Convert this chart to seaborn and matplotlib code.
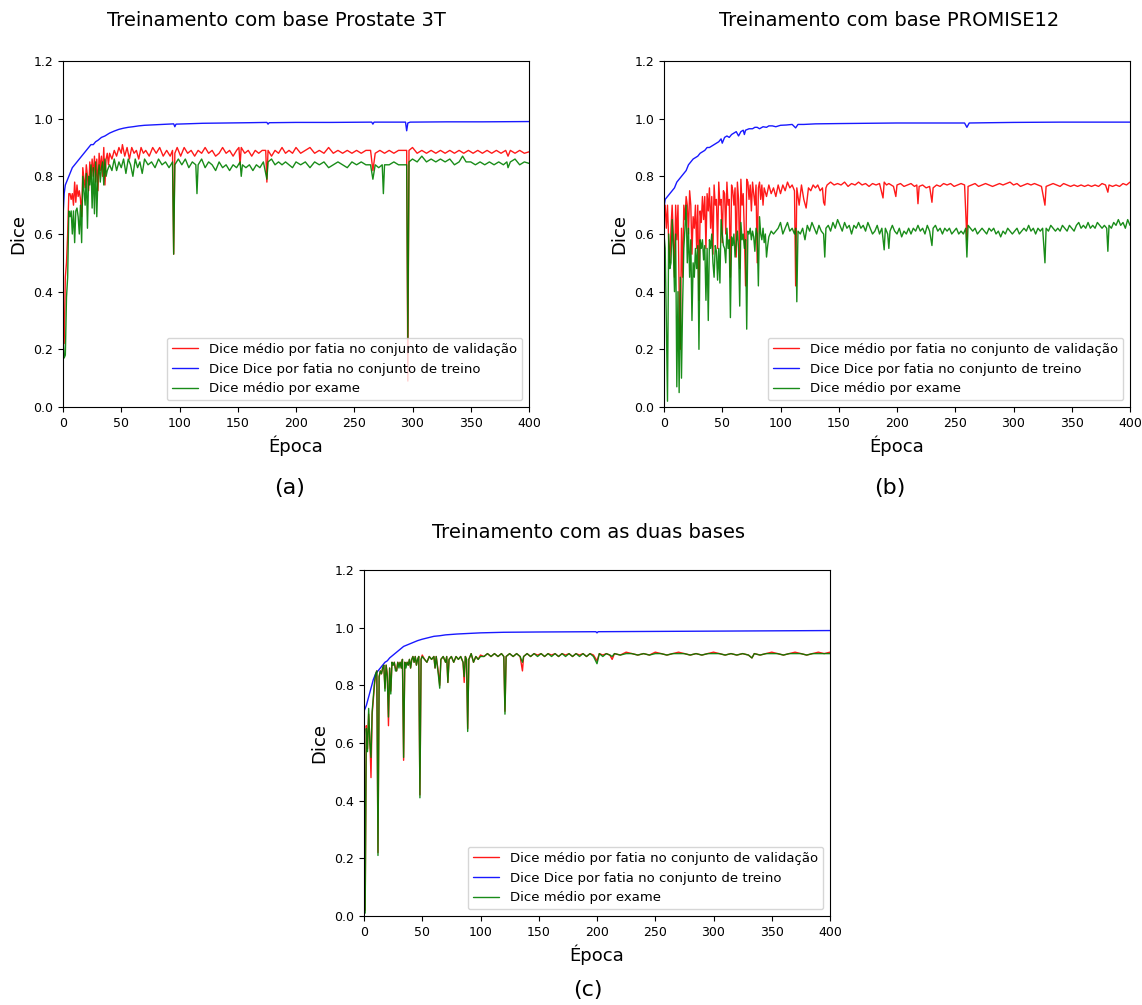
import matplotlib
matplotlib.use("Agg")
import matplotlib.pyplot as plt
import seaborn as sns

# curvas: (época, dice)
a_train = [(0, 0.66), (1, 0.74), (2, 0.77), (4, 0.79), (6, 0.81), (8, 0.83), (10, 0.84), (12, 0.85), (14, 0.86),
           (16, 0.87), (18, 0.88), (20, 0.89), (22, 0.90), (24, 0.91), (26, 0.91), (28, 0.92), (30, 0.925),
           (33, 0.935), (36, 0.94), (40, 0.95), (44, 0.957), (48, 0.963), (52, 0.967), (56, 0.97), (60, 0.972),
           (65, 0.975), (70, 0.977), (75, 0.978), (80, 0.979), (85, 0.98), (90, 0.981), (95, 0.982), (96, 0.972),
           (97, 0.981), (105, 0.982), (120, 0.984), (140, 0.985), (160, 0.986), (175, 0.987), (176, 0.981),
           (177, 0.986), (200, 0.987), (230, 0.987), (265, 0.988), (266, 0.981), (267, 0.988), (294, 0.988),
           (295, 0.958), (296, 0.985), (298, 0.988), (330, 0.989), (360, 0.989), (400, 0.99)]

a_val = [(0, 0.28), (1, 0.22), (2, 0.45), (3, 0.50), (4, 0.60), (5, 0.74), (6, 0.74), (7, 0.72), (8, 0.74), (9, 0.70),
         (10, 0.78), (11, 0.71), (12, 0.77), (13, 0.73), (14, 0.75), (15, 0.72), (16, 0.66), (17, 0.83), (18, 0.79),
         (19, 0.76), (20, 0.84), (21, 0.80), (22, 0.75), (23, 0.85), (24, 0.79), (25, 0.86), (26, 0.80), (27, 0.87),
         (28, 0.78), (29, 0.86), (30, 0.75), (31, 0.88), (32, 0.82), (33, 0.87), (34, 0.80), (35, 0.90), (36, 0.77),
         (37, 0.86), (38, 0.88), (39, 0.84), (40, 0.88), (42, 0.86), (44, 0.89), (46, 0.87), (48, 0.90), (50, 0.88),
         (51, 0.91), (53, 0.87), (55, 0.90), (57, 0.86), (59, 0.90), (61, 0.88), (63, 0.89), (65, 0.86), (67, 0.90),
         (69, 0.88), (71, 0.89), (74, 0.87), (77, 0.90), (80, 0.88), (83, 0.90), (86, 0.87), (89, 0.89), (92, 0.87),
         (94, 0.89), (95, 0.53), (96, 0.88), (98, 0.90), (101, 0.87), (104, 0.90), (107, 0.88), (110, 0.89),
         (113, 0.87), (116, 0.89), (119, 0.88), (122, 0.90), (125, 0.88), (128, 0.89), (131, 0.87), (134, 0.88),
         (137, 0.90), (140, 0.88), (143, 0.89), (146, 0.87), (149, 0.89), (151, 0.90), (152, 0.84), (153, 0.90),
         (156, 0.88), (159, 0.89), (162, 0.87), (165, 0.89), (168, 0.88), (171, 0.89), (174, 0.89), (175, 0.78),
         (176, 0.89), (179, 0.87), (182, 0.89), (185, 0.88), (188, 0.90), (191, 0.88), (194, 0.89), (197, 0.88),
         (200, 0.90), (204, 0.88), (208, 0.89), (212, 0.90), (216, 0.88), (220, 0.89), (224, 0.88), (228, 0.90),
         (232, 0.88), (236, 0.89), (240, 0.88), (244, 0.89), (248, 0.88), (252, 0.89), (256, 0.88), (260, 0.89),
         (264, 0.89), (266, 0.82), (268, 0.88), (272, 0.89), (276, 0.88), (280, 0.89), (284, 0.88), (288, 0.89),
         (292, 0.89), (295, 0.89), (296, 0.09), (297, 0.89), (300, 0.90), (304, 0.88), (308, 0.89), (312, 0.88),
         (316, 0.89), (320, 0.88), (324, 0.89), (328, 0.88), (332, 0.89), (336, 0.88), (340, 0.89), (344, 0.88),
         (348, 0.89), (352, 0.88), (356, 0.89), (360, 0.88), (364, 0.89), (368, 0.88), (372, 0.89), (376, 0.88),
         (380, 0.89), (382, 0.87), (384, 0.89), (388, 0.88), (392, 0.89), (396, 0.88), (400, 0.885)]

a_exam = [(0, 0.25), (1, 0.17), (2, 0.18), (3, 0.38), (4, 0.45), (5, 0.68), (6, 0.66), (7, 0.68), (8, 0.60), (9, 0.68),
          (10, 0.57), (11, 0.68), (12, 0.69), (13, 0.66), (14, 0.60), (15, 0.70), (16, 0.57), (17, 0.80), (18, 0.75),
          (19, 0.70), (20, 0.81), (21, 0.62), (22, 0.80), (23, 0.77), (24, 0.84), (25, 0.69), (26, 0.83), (27, 0.67),
          (28, 0.85), (29, 0.66), (30, 0.80), (31, 0.84), (32, 0.78), (33, 0.83), (34, 0.85), (35, 0.77), (36, 0.86),
          (37, 0.80), (38, 0.82), (40, 0.84), (42, 0.82), (44, 0.86), (46, 0.82), (48, 0.85), (50, 0.83), (52, 0.86),
          (54, 0.81), (56, 0.86), (58, 0.84), (60, 0.80), (62, 0.86), (64, 0.83), (66, 0.85), (68, 0.81), (70, 0.86),
          (73, 0.84), (76, 0.85), (79, 0.83), (82, 0.86), (85, 0.84), (88, 0.85), (91, 0.83), (94, 0.85), (95, 0.53),
          (96, 0.84), (99, 0.86), (102, 0.84), (105, 0.86), (108, 0.83), (111, 0.85), (114, 0.84), (115, 0.74),
          (116, 0.84), (119, 0.86), (122, 0.83), (125, 0.85), (128, 0.84), (131, 0.82), (134, 0.85), (137, 0.83),
          (140, 0.84), (143, 0.82), (146, 0.84), (149, 0.83), (152, 0.85), (153, 0.80), (154, 0.84), (157, 0.83),
          (160, 0.84), (163, 0.82), (166, 0.84), (169, 0.83), (172, 0.85), (175, 0.79), (176, 0.85), (179, 0.86),
          (182, 0.84), (185, 0.85), (188, 0.84), (191, 0.85), (194, 0.84), (197, 0.83), (200, 0.85), (204, 0.84),
          (208, 0.85), (212, 0.83), (216, 0.85), (220, 0.84), (224, 0.85), (228, 0.83), (232, 0.84), (236, 0.85),
          (240, 0.84), (244, 0.83), (248, 0.85), (252, 0.84), (256, 0.85), (260, 0.84), (264, 0.84), (266, 0.79),
          (268, 0.84), (271, 0.83), (274, 0.84), (275, 0.74), (276, 0.84), (280, 0.84), (284, 0.85), (288, 0.84),
          (292, 0.84), (295, 0.84), (296, 0.24), (297, 0.85), (300, 0.86), (304, 0.85), (308, 0.87), (312, 0.85),
          (316, 0.86), (320, 0.85), (324, 0.86), (328, 0.85), (332, 0.86), (336, 0.84), (340, 0.85), (343, 0.87),
          (346, 0.85), (350, 0.85), (354, 0.84), (358, 0.85), (362, 0.84), (366, 0.85), (370, 0.84), (374, 0.85),
          (378, 0.84), (381, 0.85), (382, 0.83), (384, 0.85), (388, 0.86), (392, 0.84), (396, 0.85), (400, 0.845)]

b_train = [(0, 0.69), (1, 0.72), (3, 0.73), (5, 0.74), (7, 0.75), (9, 0.76), (11, 0.78), (13, 0.79), (15, 0.80),
           (17, 0.81), (19, 0.82), (21, 0.84), (23, 0.85), (25, 0.86), (27, 0.865), (29, 0.87), (31, 0.88),
           (33, 0.885), (35, 0.89), (37, 0.90), (39, 0.90), (41, 0.905), (43, 0.91), (45, 0.915), (47, 0.92),
           (49, 0.93), (50, 0.915), (52, 0.935), (54, 0.94), (56, 0.935), (58, 0.945), (60, 0.95), (62, 0.955),
           (64, 0.94), (66, 0.955), (68, 0.96), (69, 0.945), (70, 0.96), (73, 0.965), (76, 0.965), (78, 0.97),
           (80, 0.97), (82, 0.965), (85, 0.972), (88, 0.97), (90, 0.975), (93, 0.975), (96, 0.972), (100, 0.977),
           (105, 0.978), (110, 0.98), (113, 0.968), (115, 0.98), (120, 0.98), (130, 0.982), (150, 0.983),
           (175, 0.984), (200, 0.985), (225, 0.985), (258, 0.985), (260, 0.97), (262, 0.985), (280, 0.986),
           (300, 0.987), (340, 0.988), (370, 0.988), (400, 0.988)]

b_val = [(0, 0.66), (1, 0.70), (2, 0.62), (3, 0.70), (4, 0.58), (5, 0.50), (6, 0.62), (7, 0.70), (8, 0.60), (9, 0.45),
         (10, 0.70), (11, 0.58), (12, 0.70), (13, 0.40), (14, 0.20), (15, 0.62), (16, 0.45), (17, 0.70), (18, 0.65),
         (19, 0.73), (20, 0.70), (21, 0.60), (22, 0.75), (23, 0.70), (24, 0.53), (25, 0.66), (26, 0.62), (27, 0.70),
         (28, 0.55), (29, 0.70), (30, 0.37), (31, 0.68), (32, 0.64), (33, 0.73), (34, 0.65), (35, 0.73), (36, 0.55),
         (37, 0.74), (38, 0.68), (39, 0.76), (40, 0.62), (41, 0.73), (42, 0.53), (43, 0.77), (44, 0.70), (45, 0.72),
         (46, 0.55), (47, 0.78), (48, 0.70), (49, 0.72), (50, 0.57), (51, 0.75), (52, 0.74), (53, 0.60), (54, 0.78),
         (55, 0.70), (56, 0.72), (57, 0.45), (58, 0.77), (59, 0.75), (60, 0.70), (61, 0.76), (62, 0.52), (63, 0.78),
         (64, 0.72), (65, 0.48), (66, 0.79), (67, 0.70), (68, 0.74), (69, 0.60), (70, 0.42), (71, 0.79), (72, 0.78),
         (73, 0.72), (74, 0.77), (75, 0.68), (76, 0.78), (77, 0.74), (78, 0.70), (79, 0.77), (80, 0.50), (81, 0.76),
         (82, 0.78), (83, 0.72), (84, 0.77), (85, 0.70), (86, 0.76), (88, 0.73), (90, 0.77), (92, 0.74), (94, 0.76),
         (96, 0.73), (98, 0.77), (100, 0.74), (102, 0.77), (104, 0.75), (106, 0.78), (108, 0.76), (110, 0.77),
         (112, 0.75), (113, 0.42), (114, 0.76), (116, 0.70), (118, 0.77), (120, 0.72), (122, 0.69), (124, 0.76),
         (126, 0.75), (128, 0.77), (130, 0.76), (132, 0.77), (134, 0.75), (136, 0.76), (137, 0.71), (138, 0.70),
         (139, 0.76), (140, 0.77), (143, 0.78), (146, 0.77), (149, 0.775), (152, 0.77), (155, 0.78), (158, 0.765),
         (161, 0.775), (164, 0.77), (167, 0.78), (170, 0.77), (173, 0.775), (176, 0.765), (179, 0.775), (182, 0.77),
         (185, 0.775), (188, 0.725), (189, 0.78), (191, 0.77), (193, 0.775), (195, 0.77), (197, 0.765), (199, 0.73),
         (200, 0.77), (203, 0.775), (206, 0.765), (209, 0.77), (212, 0.775), (215, 0.765), (217, 0.77), (218, 0.705),
         (219, 0.765), (222, 0.77), (225, 0.76), (228, 0.765), (230, 0.71), (231, 0.76), (234, 0.77), (237, 0.765),
         (240, 0.775), (243, 0.77), (246, 0.775), (249, 0.765), (252, 0.77), (255, 0.775), (258, 0.77), (260, 0.58),
         (261, 0.765), (264, 0.77), (267, 0.775), (270, 0.765), (273, 0.77), (276, 0.775), (279, 0.77), (282, 0.765),
         (285, 0.77), (288, 0.775), (291, 0.77), (294, 0.775), (297, 0.78), (300, 0.77), (303, 0.775), (306, 0.765),
         (309, 0.77), (312, 0.775), (315, 0.77), (318, 0.775), (321, 0.77), (324, 0.765), (327, 0.70), (328, 0.765),
         (331, 0.77), (334, 0.775), (337, 0.77), (340, 0.765), (343, 0.775), (346, 0.77), (349, 0.765), (352, 0.77),
         (355, 0.765), (358, 0.77), (361, 0.765), (364, 0.77), (367, 0.765), (370, 0.77), (373, 0.765), (376, 0.775),
         (379, 0.77), (381, 0.745), (382, 0.77), (385, 0.765), (388, 0.77), (391, 0.765), (394, 0.775), (397, 0.77),
         (400, 0.78)]

b_exam = [(0, 0.60), (1, 0.55), (2, 0.30), (3, 0.02), (4, 0.60), (5, 0.48), (6, 0.50), (7, 0.65), (8, 0.55), (9, 0.40),
          (10, 0.60), (11, 0.07), (12, 0.40), (13, 0.05), (14, 0.45), (15, 0.10), (16, 0.36), (17, 0.55), (18, 0.62),
          (19, 0.70), (20, 0.50), (21, 0.62), (22, 0.45), (23, 0.58), (24, 0.30), (25, 0.50), (26, 0.45), (27, 0.55),
          (28, 0.48), (29, 0.56), (30, 0.20), (31, 0.58), (32, 0.55), (33, 0.58), (34, 0.51), (35, 0.56), (36, 0.37),
          (37, 0.55), (38, 0.30), (39, 0.58), (40, 0.55), (41, 0.60), (42, 0.50), (43, 0.45), (44, 0.56), (45, 0.54),
          (46, 0.44), (47, 0.55), (48, 0.43), (49, 0.65), (50, 0.60), (51, 0.56), (52, 0.55), (53, 0.50), (54, 0.62),
          (55, 0.55), (56, 0.58), (57, 0.31), (58, 0.59), (59, 0.56), (60, 0.60), (61, 0.52), (62, 0.57), (63, 0.61),
          (64, 0.55), (65, 0.35), (66, 0.64), (67, 0.58), (68, 0.60), (69, 0.55), (70, 0.58), (71, 0.27), (72, 0.61),
          (73, 0.60), (74, 0.62), (75, 0.58), (76, 0.61), (77, 0.59), (78, 0.54), (79, 0.62), (80, 0.60), (81, 0.42),
          (82, 0.66), (83, 0.60), (84, 0.58), (85, 0.62), (86, 0.57), (87, 0.60), (88, 0.52), (89, 0.56), (90, 0.59),
          (92, 0.61), (94, 0.60), (96, 0.61), (98, 0.62), (100, 0.64), (102, 0.60), (104, 0.62), (106, 0.64),
          (108, 0.61), (110, 0.62), (112, 0.60), (113, 0.62), (114, 0.365), (115, 0.61), (117, 0.60), (119, 0.62),
          (121, 0.58), (123, 0.63), (125, 0.61), (127, 0.64), (129, 0.62), (131, 0.60), (133, 0.63), (135, 0.61),
          (137, 0.60), (138, 0.52), (139, 0.62), (141, 0.63), (143, 0.61), (145, 0.64), (147, 0.62), (149, 0.65),
          (151, 0.63), (153, 0.61), (155, 0.64), (157, 0.62), (159, 0.63), (161, 0.60), (163, 0.63), (165, 0.62),
          (167, 0.64), (169, 0.62), (171, 0.63), (173, 0.61), (175, 0.64), (177, 0.62), (179, 0.60), (181, 0.61),
          (183, 0.63), (185, 0.60), (187, 0.62), (189, 0.545), (190, 0.62), (192, 0.60), (193, 0.55), (194, 0.61),
          (196, 0.63), (198, 0.61), (200, 0.60), (202, 0.62), (204, 0.59), (206, 0.61), (208, 0.60), (210, 0.62),
          (212, 0.60), (214, 0.62), (216, 0.61), (218, 0.63), (220, 0.61), (222, 0.62), (224, 0.60), (226, 0.63),
          (228, 0.61), (230, 0.56), (231, 0.62), (233, 0.63), (235, 0.61), (237, 0.62), (239, 0.60), (241, 0.62),
          (243, 0.61), (245, 0.62), (247, 0.60), (249, 0.61), (251, 0.62), (253, 0.60), (255, 0.61), (257, 0.60),
          (259, 0.62), (260, 0.52), (261, 0.63), (263, 0.62), (265, 0.61), (267, 0.62), (269, 0.60), (271, 0.61),
          (273, 0.62), (275, 0.61), (277, 0.60), (279, 0.62), (281, 0.61), (283, 0.62), (285, 0.60), (287, 0.61),
          (289, 0.59), (291, 0.61), (293, 0.60), (295, 0.62), (297, 0.61), (299, 0.60), (301, 0.61), (303, 0.62),
          (305, 0.60), (307, 0.61), (309, 0.62), (311, 0.61), (313, 0.63), (315, 0.61), (317, 0.62), (319, 0.60),
          (321, 0.62), (323, 0.61), (325, 0.62), (327, 0.50), (328, 0.62), (330, 0.61), (332, 0.63), (334, 0.62),
          (336, 0.61), (338, 0.62), (340, 0.61), (342, 0.63), (344, 0.62), (346, 0.61), (348, 0.63), (350, 0.62),
          (352, 0.61), (354, 0.63), (356, 0.64), (358, 0.62), (360, 0.63), (362, 0.62), (364, 0.64), (366, 0.62),
          (368, 0.63), (370, 0.62), (372, 0.64), (374, 0.63), (376, 0.62), (378, 0.63), (380, 0.62), (381, 0.54),
          (382, 0.63), (384, 0.62), (386, 0.64), (388, 0.63), (390, 0.65), (392, 0.63), (394, 0.64), (396, 0.62),
          (398, 0.65), (400, 0.63)]

c_train = [(0, 0.71), (2, 0.73), (4, 0.76), (6, 0.79), (8, 0.82), (10, 0.84), (12, 0.85), (14, 0.86), (16, 0.87),
           (18, 0.88), (20, 0.885), (22, 0.895), (25, 0.905), (28, 0.915), (31, 0.925), (34, 0.935), (37, 0.94),
           (40, 0.945), (43, 0.95), (46, 0.955), (50, 0.96), (55, 0.965), (60, 0.97), (65, 0.972), (70, 0.975),
           (80, 0.978), (90, 0.98), (100, 0.982), (120, 0.984), (150, 0.985), (199, 0.986), (200, 0.982),
           (201, 0.986), (250, 0.987), (300, 0.988), (350, 0.989), (400, 0.99)]

c_val = [(0, 0.74), (1, 0.02), (2, 0.66), (3, 0.58), (4, 0.70), (5, 0.62), (6, 0.48), (7, 0.70), (8, 0.75), (9, 0.80),
         (10, 0.84), (11, 0.85), (12, 0.22), (13, 0.83), (14, 0.85), (15, 0.84), (16, 0.86), (17, 0.87), (18, 0.79),
         (19, 0.87), (20, 0.84), (21, 0.66), (22, 0.86), (23, 0.78), (24, 0.88), (25, 0.87), (26, 0.88), (27, 0.86),
         (28, 0.85), (29, 0.88), (30, 0.87), (31, 0.88), (32, 0.86), (33, 0.89), (34, 0.54), (35, 0.88), (36, 0.87),
         (37, 0.88), (38, 0.87), (39, 0.89), (40, 0.86), (41, 0.89), (42, 0.90), (43, 0.88), (44, 0.90), (45, 0.87),
         (46, 0.89), (47, 0.90), (48, 0.42), (49, 0.89), (50, 0.905), (52, 0.89), (54, 0.88), (56, 0.90), (58, 0.89),
         (60, 0.90), (61, 0.86), (62, 0.90), (64, 0.84), (65, 0.80), (66, 0.89), (68, 0.90), (70, 0.88), (71, 0.90),
         (72, 0.81), (73, 0.89), (75, 0.90), (77, 0.88), (79, 0.90), (81, 0.89), (83, 0.90), (85, 0.88), (86, 0.81),
         (87, 0.90), (88, 0.89), (89, 0.65), (90, 0.89), (92, 0.91), (94, 0.88), (96, 0.90), (98, 0.89), (100, 0.905),
         (103, 0.90), (106, 0.91), (109, 0.90), (112, 0.91), (115, 0.90), (118, 0.91), (120, 0.90), (121, 0.71),
         (122, 0.90), (125, 0.91), (128, 0.90), (131, 0.91), (134, 0.90), (136, 0.85), (137, 0.90), (140, 0.91),
         (143, 0.90), (146, 0.91), (149, 0.905), (152, 0.91), (155, 0.90), (158, 0.91), (161, 0.905), (164, 0.91),
         (167, 0.90), (170, 0.91), (173, 0.905), (176, 0.91), (179, 0.90), (182, 0.91), (185, 0.905), (188, 0.91),
         (191, 0.90), (194, 0.91), (197, 0.905), (200, 0.885), (202, 0.91), (205, 0.905), (208, 0.91), (211, 0.905),
         (213, 0.89), (215, 0.91), (220, 0.905), (225, 0.915), (230, 0.91), (235, 0.905), (240, 0.91), (245, 0.905),
         (250, 0.915), (255, 0.91), (260, 0.905), (265, 0.91), (270, 0.915), (275, 0.91), (280, 0.905), (285, 0.91),
         (290, 0.905), (295, 0.91), (300, 0.915), (305, 0.91), (310, 0.905), (315, 0.91), (320, 0.905), (325, 0.91),
         (330, 0.905), (333, 0.895), (335, 0.91), (340, 0.905), (345, 0.91), (350, 0.915), (355, 0.91), (360, 0.905),
         (365, 0.91), (370, 0.915), (375, 0.91), (380, 0.905), (385, 0.91), (390, 0.915), (395, 0.91), (400, 0.915)]

c_exam = [(0, 0.75), (1, 0.01), (2, 0.65), (3, 0.57), (4, 0.72), (5, 0.60), (6, 0.55), (7, 0.71), (8, 0.76), (9, 0.81),
          (10, 0.84), (11, 0.85), (12, 0.21), (13, 0.83), (14, 0.85), (15, 0.84), (16, 0.86), (17, 0.87), (18, 0.78),
          (19, 0.87), (20, 0.83), (21, 0.69), (22, 0.86), (23, 0.77), (24, 0.88), (25, 0.87), (26, 0.88), (27, 0.85),
          (28, 0.85), (29, 0.88), (30, 0.86), (31, 0.88), (32, 0.86), (33, 0.89), (34, 0.55), (35, 0.88), (36, 0.86),
          (37, 0.88), (38, 0.87), (39, 0.89), (40, 0.86), (41, 0.89), (42, 0.90), (43, 0.88), (44, 0.90), (45, 0.87),
          (46, 0.89), (47, 0.90), (48, 0.41), (49, 0.89), (50, 0.90), (52, 0.89), (54, 0.88), (56, 0.90), (58, 0.89),
          (60, 0.90), (61, 0.86), (62, 0.90), (64, 0.83), (65, 0.79), (66, 0.89), (68, 0.90), (70, 0.88), (71, 0.90),
          (72, 0.81), (73, 0.89), (75, 0.90), (77, 0.88), (79, 0.90), (81, 0.89), (83, 0.90), (85, 0.88), (86, 0.83),
          (87, 0.90), (88, 0.89), (89, 0.64), (90, 0.89), (92, 0.91), (94, 0.88), (96, 0.90), (98, 0.89), (100, 0.90),
          (103, 0.90), (106, 0.91), (109, 0.90), (112, 0.91), (115, 0.90), (118, 0.91), (120, 0.90), (121, 0.70),
          (122, 0.90), (125, 0.91), (128, 0.90), (131, 0.91), (134, 0.90), (136, 0.88), (137, 0.90), (140, 0.91),
          (143, 0.90), (146, 0.91), (149, 0.90), (152, 0.91), (155, 0.90), (158, 0.91), (161, 0.90), (164, 0.91),
          (167, 0.90), (170, 0.91), (173, 0.90), (176, 0.91), (179, 0.90), (182, 0.91), (185, 0.90), (188, 0.91),
          (191, 0.90), (194, 0.91), (197, 0.90), (200, 0.875), (202, 0.91), (205, 0.90), (208, 0.91), (211, 0.905),
          (213, 0.90), (215, 0.91), (220, 0.905), (225, 0.91), (230, 0.91), (235, 0.905), (240, 0.91), (245, 0.905),
          (250, 0.91), (255, 0.91), (260, 0.905), (265, 0.91), (270, 0.91), (275, 0.91), (280, 0.905), (285, 0.91),
          (290, 0.905), (295, 0.91), (300, 0.91), (305, 0.91), (310, 0.905), (315, 0.91), (320, 0.905), (325, 0.91),
          (330, 0.905), (333, 0.895), (335, 0.91), (340, 0.905), (345, 0.91), (350, 0.91), (355, 0.91), (360, 0.905),
          (365, 0.91), (370, 0.91), (375, 0.91), (380, 0.905), (385, 0.91), (390, 0.91), (395, 0.91), (400, 0.91)]

titulos = ["Treinamento com base Prostate 3T", "Treinamento com base PROMISE12", "Treinamento com as duas bases"]
letras = ["(a)", "(b)", "(c)"]
rotulos = ["Dice médio por fatia no conjunto de validação",
           "Dice Dice por fatia no conjunto de treino",
           "Dice médio por exame"]
cores = ["red", "blue", "green"]

sns.set_style("ticks")
plt.rcParams["font.family"] = ["DejaVu Sans"]
plt.rcParams["text.color"] = "black"
plt.rcParams["axes.labelcolor"] = "black"
plt.rcParams["xtick.color"] = "black"
plt.rcParams["ytick.color"] = "black"

W, H = 1142, 1005
fig = plt.figure(figsize=(W / 100, H / 100), dpi=100)


def eixo(x0, y_top, w=466, h=346):
    return fig.add_axes([x0 / W, 1 - (y_top + h) / H, w / W, h / H])


paineis = [
    (eixo(63, 61), [a_val, a_train, a_exam], (276, 20), (290, 488)),
    (eixo(664, 61), [b_val, b_train, b_exam], (889, 20), (890, 488)),
    (eixo(364, 570), [c_val, c_train, c_exam], (588, 532), (588, 990)),
]

for i, (ax, series, pos_t, pos_l) in enumerate(paineis):
    for serie, cor, rot in zip(series, cores, rotulos):
        ep = [p[0] for p in serie]
        val = [p[1] for p in serie]
        sns.lineplot(x=ep, y=val, ax=ax, color=cor, lw=1.0, alpha=0.9, label=rot)
    ax.set_xlim(0, 400)
    ax.set_ylim(0, 1.2)
    ax.set_xticks(range(0, 401, 50))
    ax.set_yticks([0.0, 0.2, 0.4, 0.6, 0.8, 1.0, 1.2])
    ax.tick_params(labelsize=9, length=3.5, width=0.8)
    for s in ax.spines.values():
        s.set_visible(True)
        s.set_color("black")
        s.set_linewidth(0.8)
    ax.set_xlabel("Época", fontsize=13)
    ax.set_ylabel("Dice", fontsize=13)
    ax.legend(loc="lower right", fontsize=9.5, frameon=True, fancybox=True, framealpha=0.8,
              edgecolor="#cccccc", handlelength=2.0)
    fig.text(pos_t[0] / W, 1 - pos_t[1] / H, titulos[i], ha="center", va="center", fontsize=14)
    fig.text(pos_l[0] / W, 1 - pos_l[1] / H, letras[i], ha="center", va="center", fontsize=16)

fig.savefig("out.png", dpi=100, facecolor="white")
